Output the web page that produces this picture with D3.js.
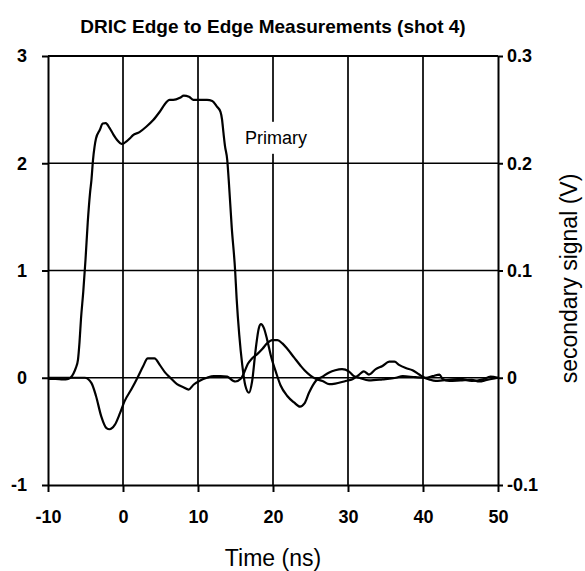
<!DOCTYPE html>
<html>
<head>
<meta charset="utf-8">
<script src="https://cdn.jsdelivr.net/npm/d3@7"></script>
<style>
  html, body { margin: 0; padding: 0; background: #fff; }
  svg { display: block; font-family: "Liberation Sans", Arial, sans-serif; }
</style>
</head>
<body>
<div id="chart"></div>
<script>
// primary trace (left axis, arbitrary units)
const primaryTime = [-10, -9, -8, -7.3, -7, -6.6, -6.3, -6, -5.8, -5.6, -5.3, -5, -4.7, -4.4, -4.2, -4,
  -3.8, -3.6, -3.1, -2.7, -2.3, -1.8, -1.3, -0.7, -0.2, 0.2, 0.9, 1.3, 2.2, 3.1, 4, 4.9, 5.8, 6.2, 6.7,
  7.6, 8.1, 8.8, 9.4, 10, 11.2, 11.9, 12.5, 13, 13.2, 13.4, 13.6, 13.9, 14.1, 14.5, 14.95, 15.15, 15.5,
  15.9, 16.3, 16.8, 17.2, 17.7, 18.1, 18.4, 18.8, 19.2, 19.7, 20.4, 21, 21.9, 22.8, 23.6, 24.2, 24.8,
  25.7, 26.6, 27.5, 28.3, 29.2, 30.1, 30.8, 31.5, 32.8, 34.6, 36.4, 37.3, 39, 40.4, 41.3, 42.2, 42.6,
  43.5, 45, 46.5, 47.5, 48.5, 50];
const primaryValue = [-0.01, -0.01, -0.015, -0.01, 0, 0.04, 0.09, 0.17, 0.33, 0.55, 0.8, 1.1, 1.45, 1.72, 1.85, 2.03,
  2.15, 2.23, 2.31, 2.37, 2.375, 2.33, 2.27, 2.21, 2.18, 2.19, 2.23, 2.26, 2.29, 2.34, 2.4, 2.48, 2.57, 2.59, 2.59,
  2.61, 2.63, 2.62, 2.59, 2.59, 2.59, 2.58, 2.53, 2.48, 2.41, 2.28, 2.16, 2.03, 1.84, 1.4, 1.0, 0.74, 0.4,
  0.12, -0.07, -0.14, -0.04, 0.27, 0.46, 0.5, 0.46, 0.36, 0.21, 0.05, -0.07, -0.17, -0.23, -0.27, -0.24, -0.14,
  -0.03, 0.01, 0.05, 0.07, 0.08, 0.06, 0.015, 0, -0.025, -0.015, 0, 0.015, 0.005, 0, 0.015, 0.03, -0.01,
  -0.03, -0.025, -0.02, -0.035, -0.02, 0];

// secondary trace (right axis, V)
const secondaryTime = [-10, -6, -5.1, -4.2, -3.6, -2.9, -2.2, -1.8, -1.1, -0.4, 0.2, 1.1, 2, 2.7, 3.3, 4.2,
  4.9, 5.6, 6.3, 7.2, 8.1, 8.75, 9.4, 10.3, 11.2, 12.1, 13, 13.9, 14.6, 15, 15.7, 16.1, 16.65, 17.2, 17.9,
  18.6, 19.2, 19.9, 20.6, 21.25, 21.9, 22.8, 23.7, 24.2, 25, 25.7, 26.6, 27.5, 28.3, 29.7, 30.6, 31.5,
  32.1, 32.8, 33.7, 34.6, 35.5, 36.2, 36.8, 37.7, 38.6, 39.5, 40.2, 40.8, 41.7, 42.6, 43.5, 45, 46.5,
  48, 49, 50];
const secondaryValue = [0, 0, 0, -0.005, -0.017, -0.036, -0.047, -0.048, -0.044, -0.033, -0.022, -0.011, 0.001, 0.011, 0.018, 0.018,
  0.012, 0.005, 0, -0.006, -0.009, -0.011, -0.0065, -0.0025, 0, 0.0015, 0.0015, 0.001, -0.0025, -0.0035, -0.001, 0.004, 0.013, 0.018, 0.022,
  0.027, 0.032, 0.035, 0.035, 0.032, 0.027, 0.019, 0.011, 0.007, 0.002, -0.001, -0.003, -0.006, -0.0055, -0.003, -0.0015, 0.003,
  0.006, 0.003, 0.008, 0.011, 0.015, 0.015, 0.012, 0.009, 0.007, 0.003, 0, -0.0015, -0.003, -0.0025, -0.002, -0.001, -0.003,
  -0.0015, 0.001, 0];

const xTicks = [-10, 0, 10, 20, 30, 40, 50];
const leftTicks = [-1, 0, 1, 2, 3];
const rightTicks = [-0.1, 0, 0.1, 0.2, 0.3];

const W = 585, H = 571;
const margin = { top: 56, right: 87, bottom: 86, left: 48 };
const width = W - margin.left - margin.right;
const height = H - margin.top - margin.bottom;

const svg = d3.select("#chart")
  .append("svg")
  .attr("width", W)
  .attr("height", H);

const g = svg.append("g")
  .attr("transform", `translate(${margin.left},${margin.top})`);

const x = d3.scaleLinear().domain([-10, 50]).range([0, width]);
const yL = d3.scaleLinear().domain([-1, 3]).range([height, 0]);
const yR = d3.scaleLinear().domain([-0.1, 0.3]).range([height, 0]);

// grid
g.selectAll(".vgrid")
  .data(xTicks.slice(1, -1))
  .enter()
  .append("line")
  .attr("x1", d => x(d)).attr("x2", d => x(d))
  .attr("y1", 0).attr("y2", height)
  .attr("stroke", "#000")
  .attr("stroke-width", 1.7);

g.selectAll(".hgrid")
  .data(leftTicks.slice(1, -1))
  .enter()
  .append("line")
  .attr("x1", 0).attr("x2", width)
  .attr("y1", d => yL(d)).attr("y2", d => yL(d))
  .attr("stroke", "#000")
  .attr("stroke-width", 1.7);

// axes, plain hyphen for minus like the scan
const plain = d => String(d);

const styleAxis = (sel) => {
  sel.attr("font-family", null);
  sel.select(".domain").attr("stroke", "#000").attr("stroke-width", 2);
  sel.selectAll(".tick line").attr("stroke", "#000").attr("stroke-width", 2);
  sel.selectAll("text")
    .attr("font-size", "18px")
    .attr("font-weight", "bold")
    .attr("fill", "#000");
};

g.append("g")
  .attr("transform", `translate(0,${height})`)
  .call(d3.axisBottom(x).tickValues(xTicks).tickFormat(plain).tickSize(7).tickSizeOuter(0).tickPadding(18))
  .call(styleAxis);

g.append("g")
  .call(d3.axisLeft(yL).tickValues(leftTicks).tickFormat(plain).tickSize(6).tickSizeOuter(0).tickPadding(15))
  .call(styleAxis);

g.append("g")
  .attr("transform", `translate(${width},0)`)
  .call(d3.axisRight(yR).tickValues(rightTicks).tickFormat(plain).tickSize(5).tickSizeOuter(0).tickPadding(4))
  .call(styleAxis);

// top border
g.append("line")
  .attr("x1", 0).attr("x2", width)
  .attr("y1", 0).attr("y2", 0)
  .attr("stroke", "#000")
  .attr("stroke-width", 2);

// traces
const primary = primaryTime.map((t, i) => ({ t, v: primaryValue[i] }));
const secondary = secondaryTime.map((t, i) => ({ t, v: secondaryValue[i] }));

g.append("path")
  .datum(secondary)
  .attr("fill", "none")
  .attr("stroke", "#000")
  .attr("stroke-width", 2.2)
  .attr("stroke-linejoin", "round")
  .attr("d", d3.line().curve(d3.curveMonotoneX).x(d => x(d.t)).y(d => yR(d.v)));

g.append("path")
  .datum(primary)
  .attr("fill", "none")
  .attr("stroke", "#000")
  .attr("stroke-width", 2.2)
  .attr("stroke-linejoin", "round")
  .attr("d", d3.line().curve(d3.curveMonotoneX).x(d => x(d.t)).y(d => yL(d.v)));

// "Primary" label on a white patch
const lab = g.append("g").attr("transform", `translate(${x(20.4)},${yL(2.24)})`);
const labRect = lab.append("rect").attr("fill", "#fff");
const labText = lab.append("text")
  .attr("text-anchor", "middle")
  .attr("dy", "0.35em")
  .attr("font-size", "18px")
  .text("Primary");
const bb = labText.node().getBBox();
labRect.attr("x", bb.x - 4).attr("y", bb.y - 6).attr("width", bb.width + 8).attr("height", bb.height + 12);

// titles
svg.append("text")
  .attr("x", margin.left + width / 2)
  .attr("y", 33)
  .attr("text-anchor", "middle")
  .attr("font-size", "19px")
  .attr("font-weight", "bold")
  .text("DRIC Edge to Edge Measurements (shot 4)");

svg.append("text")
  .attr("x", margin.left + width / 2)
  .attr("y", 566)
  .attr("text-anchor", "middle")
  .attr("font-size", "23px")
  .text("Time (ns)");

svg.append("text")
  .attr("transform", `translate(577,${margin.top + height / 2 + 8}) rotate(-90)`)
  .attr("text-anchor", "middle")
  .attr("font-size", "23px")
  .text("secondary signal (V)");
</script>
</body>
</html>
